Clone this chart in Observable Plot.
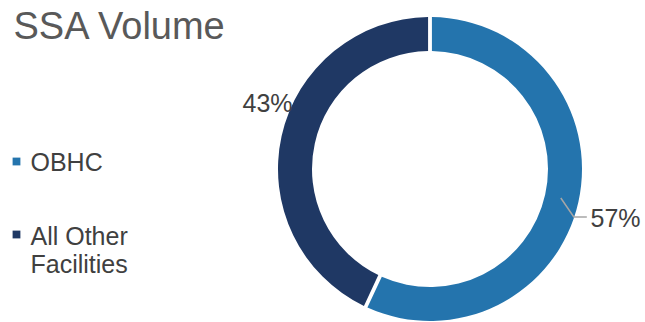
<!DOCTYPE html>
<html><head><meta charset="utf-8">
<script src="https://cdn.jsdelivr.net/npm/d3@7"></script>
<script src="https://cdn.jsdelivr.net/npm/@observablehq/plot@0.6"></script>
<style>body{margin:0;background:#fff;font-family:"Liberation Sans",Arial,sans-serif}</style>
</head><body><div id="chart"></div>
<script>
const title = "SSA Volume";
const categories = ["OBHC", "All Other Facilities"];
const shares = [57, 43];
const legendLabels = ["OBHC", "All Other\nFacilities"];
const valueLabels = ["57%", "43%"];
const colors = ["#2474ad", "#1f3864"];

const W = 645, H = 322, cx = 430, cy = 169, R = 152, r0 = 118;
const data = categories.map((c, i) => ({category: c, share: shares[i], legend: legendLabels[i], label: valueLabels[i]}));

function donut(index, scales, values, dims, ctx) {
  const g = d3.create("svg:g").attr("transform", `translate(${scales.x(cx)},${scales.y(cy)})`);
  const arcs = d3.pie().sort(null).value(d => d.share).padAngle(0.02)(data);
  const arc = d3.arc().innerRadius(r0).outerRadius(R);
  g.selectAll("path").data(arcs).join("path")
    .attr("d", arc)
    .attr("fill", d => scales.color(d.data.category));
  const a = arcs[0], m = (a.startAngle + a.endAngle) / 2;
  const p0 = [Math.sin(m) * 134, -Math.cos(m) * 134];
  const p1 = [p0[0] + 13, p0[1] + 19];
  const p2 = [p1[0] + 13, p1[1]];
  g.append("path").attr("d", `M${p0}L${p1}L${p2}`).attr("fill", "none").attr("stroke", "#a6a6a6").attr("stroke-width", 1.5);
  return g.node();
}

const chart = Plot.plot({
  width: W, height: H, margin: 0,
  x: {domain: [0, W], range: [0, W], axis: null},
  y: {domain: [0, H], range: [0, H], axis: null},
  color: {domain: categories, range: colors},
  style: {fontFamily: "'Liberation Sans', Arial, sans-serif", background: "#fff"},
  marks: [
    donut,
    Plot.text([title], {x: 13, y: 12, text: d => d, textAnchor: "start", lineAnchor: "top", fontSize: 38, fill: "#595959"}),
    Plot.dot([categories[0]], {x: 16, y: 161, symbol: "square", r: 4.4, fill: d => d, stroke: null}),
    Plot.dot([categories[1]], {x: 16, y: 234, symbol: "square", r: 4.4, fill: d => d, stroke: null}),
    Plot.text([legendLabels[0]], {x: 30, y: 153, text: d => d, textAnchor: "start", lineAnchor: "top", fontSize: 25, fill: "#404040"}),
    Plot.text([legendLabels[1]], {x: 30, y: 225, text: d => d, textAnchor: "start", lineAnchor: "top", fontSize: 25, lineHeight: 1.1, fill: "#404040"}),
    Plot.text([valueLabels[1]], {x: 267, y: 103, text: d => d, textAnchor: "middle", fontSize: 25, fill: "#404040"}),
    Plot.text([valueLabels[0]], {x: 590, y: 218, text: d => d, textAnchor: "start", fontSize: 25, fill: "#404040"})
  ]
});
document.getElementById("chart").append(chart);
</script>
</body></html>
